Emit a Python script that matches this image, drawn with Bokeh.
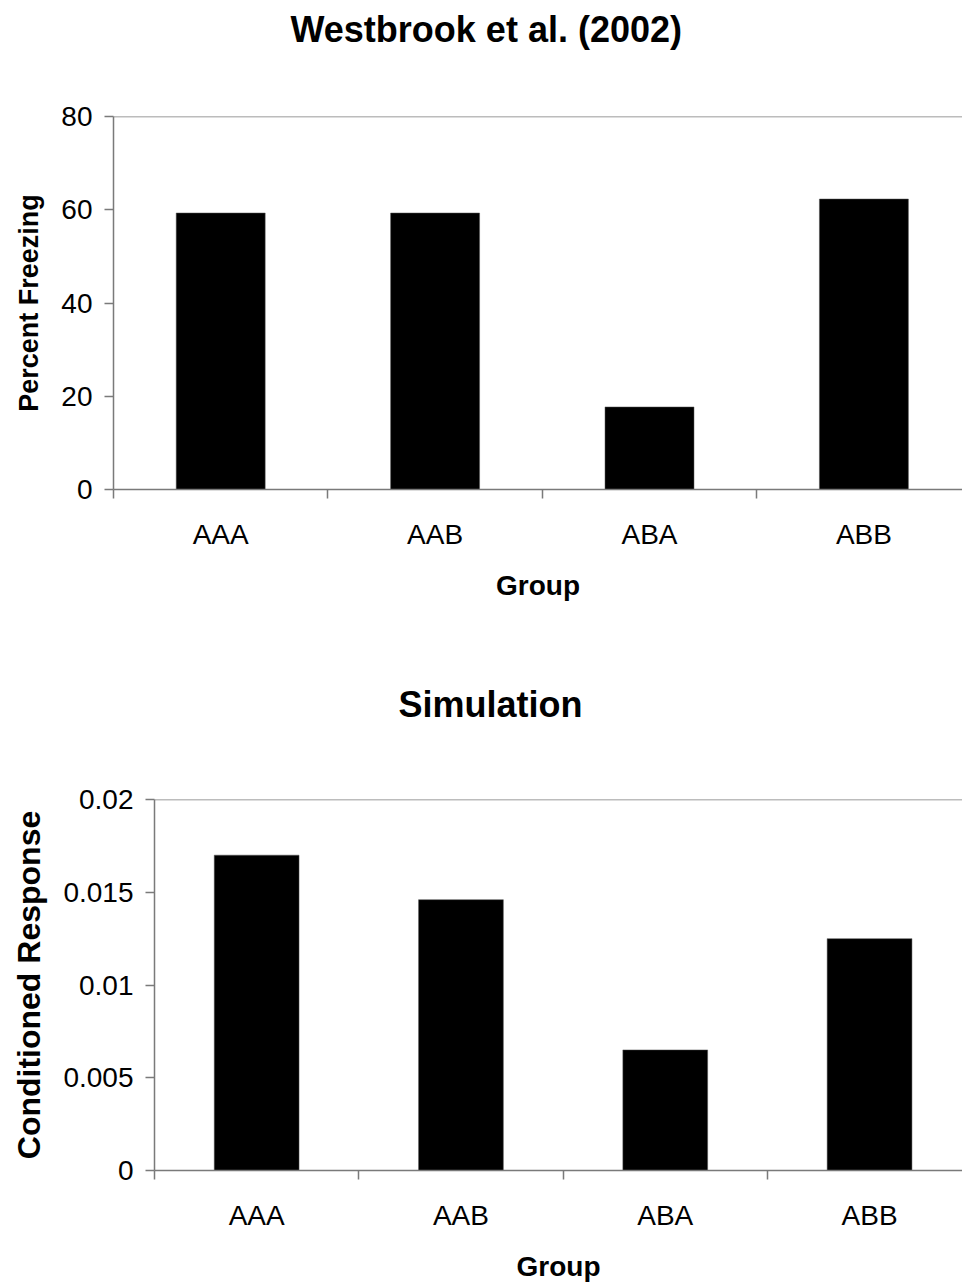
from bokeh.plotting import figure
from bokeh.models import FixedTicker, Range1d, Span, Title
from bokeh.embed import file_html
from bokeh.resources import INLINE

groups = ["AAA", "AAB", "ABA", "ABB"]
freezing = [59.3, 59.3, 17.7, 62.3]
simulation = [0.0170, 0.0146, 0.0065, 0.0125]
freezing_ticks = [0, 20, 40, 60, 80]
sim_ticks = [0, 0.005, 0.01, 0.015, 0.02]
sim_tick_labels = ["0", "0.005", "0.01", "0.015", "0.02"]

FONT = "Liberation Sans"
AXIS_COLOR = "#7a7a7a"


def make_panel(title, ylabel, values, yticks, ylabels, ymax,
               width, height, left, top, bottom, xend,
               title_dx, spacer, group_standoff, ylabel_size, ylabel_standoff):
    p = figure(width=width, height=height, output_backend="svg",
               toolbar_location=None, x_range=Range1d(0, xend),
               y_range=Range1d(0, ymax),
               min_border_left=left, min_border_right=0,
               min_border_top=top, min_border_bottom=bottom)
    xs = [i + 0.5 for i in range(len(groups))]
    p.vbar(x=xs, top=values, width=0.415, bottom=0,
           fill_color="black", line_color="#555555", line_width=0.5)
    p.grid.visible = False
    p.outline_line_color = None
    p.background_fill_color = "white"
    p.border_fill_color = "white"

    # empty spacer between frame and title
    p.add_layout(Title(text=" ", text_font_size="1px", standoff=spacer),
                 "above")
    p.title = Title(text=title, text_font=FONT, text_font_style="bold",
                    text_font_size="36px", text_color="black",
                    align="left", offset=title_dx,
                    vertical_align="top", standoff=0)
    p.title_location = "above"

    # top frame line
    p.add_layout(Span(location=ymax, dimension="width",
                      line_color=AXIS_COLOR, line_width=1.5))

    xa = p.xaxis[0]
    xa.ticker = FixedTicker(ticks=xs, minor_ticks=list(range(len(groups) + 1)))
    xa.major_label_overrides = {x: g for x, g in zip(xs, groups)}
    xa.major_tick_out = 0
    xa.major_tick_in = 0
    xa.minor_tick_out = 9
    xa.minor_tick_in = 0
    xa.minor_tick_line_color = AXIS_COLOR
    xa.minor_tick_line_width = 1.5
    xa.axis_line_color = AXIS_COLOR
    xa.axis_line_width = 1.5
    xa.major_label_text_font = FONT
    xa.major_label_text_font_size = "28px"
    xa.major_label_text_color = "black"
    xa.major_label_standoff = 20
    xa.axis_label = "Group"
    xa.axis_label_text_font = FONT
    xa.axis_label_text_font_style = "bold"
    xa.axis_label_text_font_size = "28px"
    xa.axis_label_text_color = "black"
    xa.axis_label_standoff = group_standoff

    ya = p.yaxis[0]
    ya.ticker = FixedTicker(ticks=yticks, minor_ticks=[])
    ya.major_label_overrides = {v: s for v, s in zip(yticks, ylabels)}
    ya.major_tick_out = 9
    ya.major_tick_in = 0
    ya.minor_tick_out = 0
    ya.minor_tick_in = 0
    ya.major_tick_line_color = AXIS_COLOR
    ya.major_tick_line_width = 1.5
    ya.axis_line_color = AXIS_COLOR
    ya.axis_line_width = 1.5
    ya.major_label_text_font = FONT
    ya.major_label_text_font_size = "28px"
    ya.major_label_text_color = "black"
    ya.major_label_standoff = 12
    ya.axis_label = ylabel
    ya.axis_label_text_font = FONT
    ya.axis_label_text_font_style = "bold"
    ya.axis_label_text_font_size = ylabel_size
    ya.axis_label_text_color = "black"
    ya.axis_label_standoff = ylabel_standoff
    return p


p1 = make_panel("Westbrook et al. (2002)", "Percent Freezing", freezing,
                freezing_ticks, [str(v) for v in freezing_ticks], 80,
                962, 628, 113, 116, 139, 849 / 214.4, 177, 62, 17, "27px", 14)
p2 = make_panel("Simulation", "Conditioned Response", simulation,
                sim_ticks, sim_tick_labels, 0.02,
                962, 656, 154, 171, 112, 808 / 204.3, 244, 70, 17, "32px", 13)

open("out.html", "w").write(file_html([p1, p2], INLINE))
